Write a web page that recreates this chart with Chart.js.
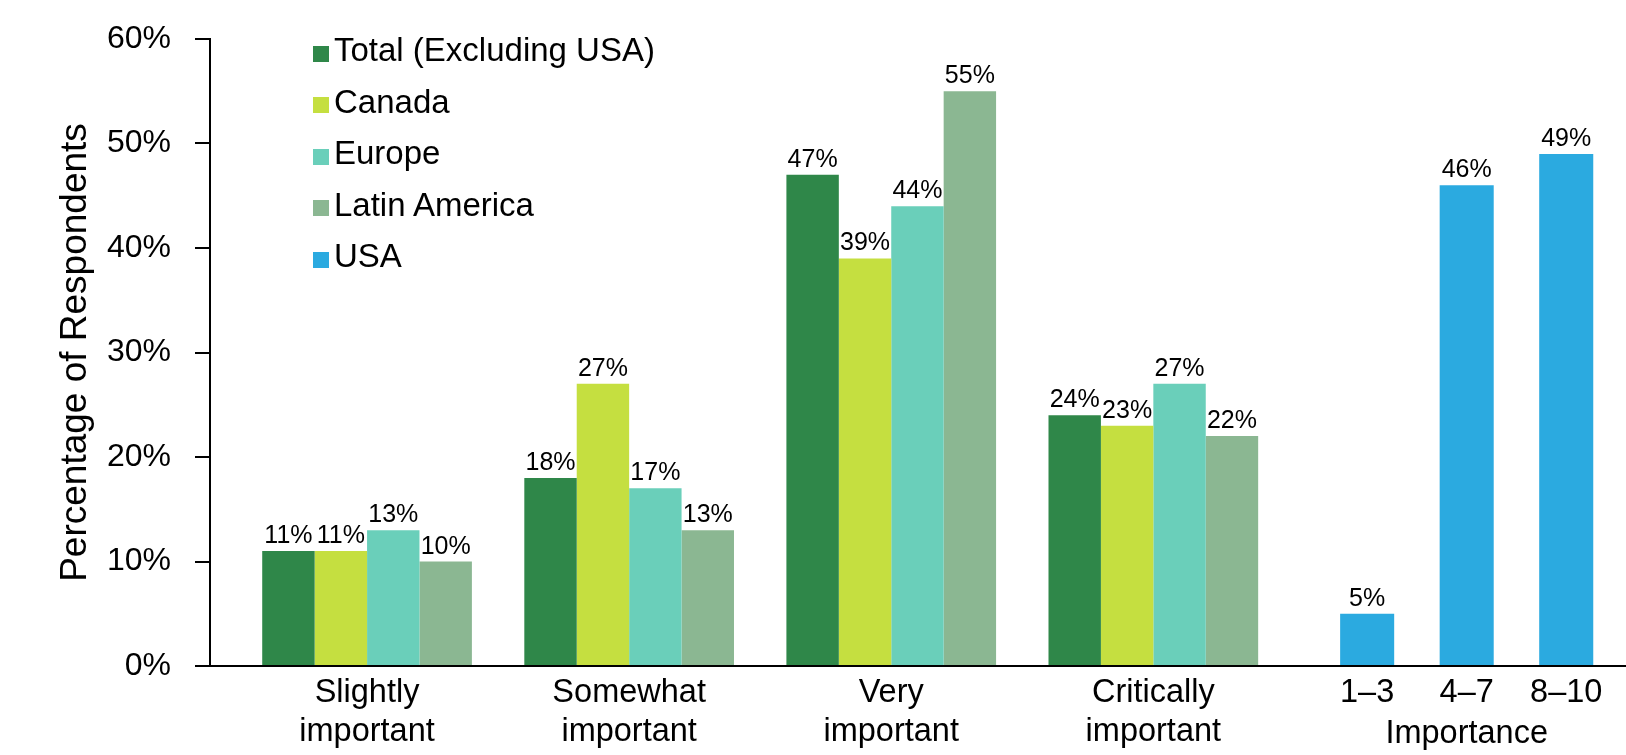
<!DOCTYPE html>
<html>
<head>
<meta charset="utf-8">
<script src="https://cdn.jsdelivr.net/npm/chart.js@4.4.1/dist/chart.umd.min.js"></script>
<style>
  body { margin: 0; background: #fff; }
  #wrap { position: relative; width: 1626px; height: 755px; }
  #legend {
    position: absolute; left: 313px; top: 24px;
    font-family: 'Liberation Sans', Arial, sans-serif; font-size: 33px; color: #000;
  }
  .item { display: flex; align-items: center; height: 51.5px; line-height: 51.5px; white-space: nowrap; }
  .swatch { width: 16px; height: 16px; margin-right: 5px; margin-top: 8px; flex: none; }
</style>
</head>
<body>
<div id="wrap">
  <canvas id="chart"></canvas>
  <div id="legend"></div>
</div>
<script>
const categories = [['Slightly', 'important'], ['Somewhat', 'important'], ['Very', 'important'], ['Critically', 'important']]
const usaLabels = ['1–3', '4–7', '8–10']

const totalExUSA = [11, 18, 47, 24]
const canada = [11, 27, 39, 23]
const europe = [13, 17, 44, 27]
const latinAmerica = [10, 13, 55, 22]
const usa = [5, 46, 49]

const yTicks = [0, 10, 20, 30, 40, 50, 60]

const FONT = "'Liberation Sans', Arial, sans-serif"

const series = [
  { label: 'Total (Excluding USA)', data: totalExUSA, color: '#2f8749', axis: 'x' },
  { label: 'Canada', data: canada, color: '#c5df40', axis: 'x' },
  { label: 'Europe', data: europe, color: '#6acfba', axis: 'x' },
  { label: 'Latin America', data: latinAmerica, color: '#8bb792', axis: 'x' },
  { label: 'USA', data: usa, color: '#2baae0', axis: 'xU' },
]

// Chart.js 4.5 places bars of different x axes side by side;
// here each x axis is its own block, so group only within the bar's own axis
const barProto = Chart.BarController.prototype
if (barProto._getAxis) {
  barProto._getAxis = function () { return [this._cachedMeta.iScale.id] }
}

// legend inside the plot, stacked vertically
const legendEl = document.getElementById('legend')
series.forEach((s) => {
  const row = document.createElement('div')
  row.className = 'item'
  const sw = document.createElement('span')
  sw.className = 'swatch'
  sw.style.background = s.color
  const txt = document.createElement('span')
  txt.textContent = s.label
  row.appendChild(sw)
  row.appendChild(txt)
  legendEl.appendChild(row)
})

// value labels above bars
const valueLabels = {
  id: 'valueLabels',
  afterDatasetsDraw(chart) {
    const ctx = chart.ctx
    ctx.save()
    ctx.font = `25px ${FONT}`
    ctx.fillStyle = '#000'
    ctx.textAlign = 'center'
    ctx.textBaseline = 'alphabetic'
    chart.data.datasets.forEach((ds, i) => {
      const meta = chart.getDatasetMeta(i)
      meta.data.forEach((bar, j) => {
        const v = ds.data[j]
        if (v == null) return
        ctx.fillText(v + '%', bar.x, bar.y - 8)
      })
    })
    ctx.restore()
  },
}

const fitX = (scale) => {
  scale.height = 89
  scale.paddingLeft = 0
  scale.paddingRight = 0
}
const gapAxis = (weight, stackWeight) => ({
  type: 'category',
  position: 'bottom',
  stack: 'row',
  stackWeight,
  weight,
  labels: [''],
  grid: { display: false, drawTicks: false },
  ticks: { display: false },
  border: { display: true, color: '#000', width: 2 },
  afterFit: fitX,
})
const xTicks = {
  color: '#000',
  font: { family: FONT, size: 32.5, lineHeight: 1.2 },
  padding: 8,
  maxRotation: 0,
  autoSkip: false,
}

new Chart(document.getElementById('chart'), {
  type: 'bar',
  data: {
    labels: categories,
    datasets: series.map((s) => ({
      label: s.label,
      data: s.data,
      backgroundColor: s.color,
      borderWidth: 0,
      xAxisID: s.axis,
      categoryPercentage: s.axis === 'xU' ? 0.543 : 0.8,
      barPercentage: 1,
    })),
  },
  options: {
    responsive: true,
    maintainAspectRatio: false,
    animation: false,
    layout: { padding: { top: 39, right: 0, bottom: 0, left: 0 } },
    plugins: {
      legend: { display: false },
      tooltip: { enabled: false },
    },
    scales: {
      xL: gapAxis(1, 26),
      x: {
        type: 'category',
        position: 'bottom',
        stack: 'row',
        stackWeight: 1048,
        weight: 2,
        labels: categories,
        offset: true,
        grid: { display: false, drawTicks: false },
        border: { display: true, color: '#000', width: 2 },
        ticks: xTicks,
        afterFit: fitX,
      },
      xM: gapAxis(3, 33),
      xU: {
        type: 'category',
        position: 'bottom',
        stack: 'row',
        stackWeight: 298.5,
        weight: 4,
        labels: usaLabels,
        offset: true,
        grid: { display: false, drawTicks: false },
        border: { display: true, color: '#000', width: 2 },
        ticks: xTicks,
        title: {
          display: true,
          text: 'Importance',
          color: '#000',
          font: { family: FONT, size: 32.5, lineHeight: 1.2 },
          padding: { top: 0, bottom: 1.5 },
        },
        afterFit: fitX,
      },
      xR: gapAxis(5, 10),
      y: {
        min: 0,
        max: 60,
        afterBuildTicks: (scale) => { scale.ticks = yTicks.map((v) => ({ value: v })) },
        grid: {
          display: true,
          drawOnChartArea: false,
          drawTicks: true,
          tickLength: 15,
          color: '#000',
          lineWidth: 2,
        },
        border: { display: true, color: '#000', width: 2 },
        ticks: {
          color: '#000',
          font: { family: FONT, size: 32 },
          padding: 24,
          callback: (v) => v + '%',
        },
        title: {
          display: true,
          text: 'Percentage of Respondents',
          color: '#000',
          font: { family: FONT, size: 37, lineHeight: 1 },
          padding: { top: 57, bottom: 0 },
        },
        afterFit: (scale) => {
          scale.width = 210
          scale.paddingTop = 0
          scale.paddingBottom = 0
        },
      },
    },
  },
  plugins: [valueLabels],
})
</script>
</body>
</html>
